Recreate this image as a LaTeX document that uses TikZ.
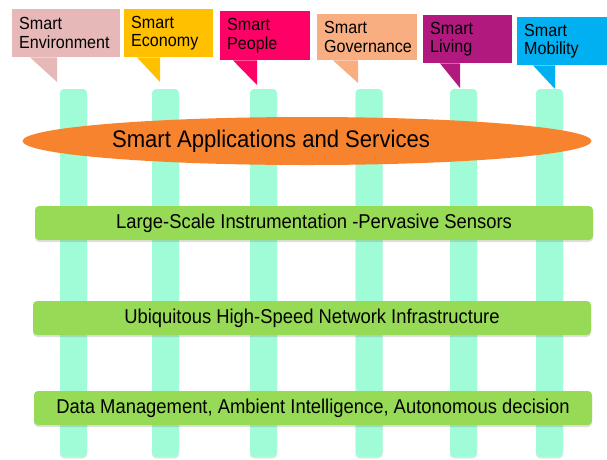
\documentclass[tikz,border=0pt]{standalone}
\usepackage{fontspec}
\setmainfont{Liberation Sans}[FakeStretch=0.92]
\usetikzlibrary{shapes.geometric,shadows}

\definecolor{envcol}{HTML}{E6B9B8}
\definecolor{econcol}{HTML}{FFC000}
\definecolor{peoplecol}{HTML}{FF0066}
\definecolor{govcol}{HTML}{F9AE82}
\definecolor{livingcol}{HTML}{B2197F}
\definecolor{mobcol}{HTML}{00B0F0}
\definecolor{appcol}{HTML}{F7832F}
\definecolor{layercol}{HTML}{97DA55}
\definecolor{pillarcol}{HTML}{9FFCD6}

\begin{document}
\begin{tikzpicture}[x=1pt,y=-1pt,
    pillar/.style={fill=pillarcol, rounded corners=4pt, minimum width=27pt,
      minimum height=368pt, inner sep=0pt,
      drop shadow={shadow xshift=0pt,shadow yshift=-1.5pt,opacity=.2}},
    layer/.style={fill=layercol, rounded corners=4pt, minimum width=558pt,
      minimum height=34pt, inner sep=0pt, font=\fontsize{20}{24}\selectfont,
      drop shadow={shadow xshift=0pt,shadow yshift=-2pt,opacity=.25}},
    bubble/.style={anchor=north west, inner xsep=7pt, inner ysep=0pt,
      align=left, font=\fontsize{17.5}{18.5}\selectfont}]
    \useasboundingbox (0,0) rectangle (607,459);

    % pillars
    \foreach \n/\x in {1/73.5,2/165.5,3/263.5,4/369,5/463.5,6/549.5}
      \node[pillar] (p\n) at (\x,273) {};

    % applications
    \node[ellipse, fill=appcol, minimum width=569pt, minimum height=48pt, inner sep=0pt] (apps) at (307,141) {};
    \node[anchor=base, font=\fontsize{24}{28}\selectfont] (appslabel) at (271,147) {Smart Applications and Services};

    % layers
    \node[layer] (sensors) at (314,223) {Large-Scale Instrumentation -Pervasive Sensors};
    \node[layer] (network) at (312,318) {Ubiquitous High-Speed Network Infrastructure};
    \node[layer] (data) at (313,408) {Data Management, Ambient Intelligence, Autonomous decision};

    % callouts
    \node[bubble, fill=envcol, text width=94pt, minimum height=48pt] (env) at (12,9) {Smart\\Environment};
    \node[bubble, fill=econcol, text width=75pt, minimum height=48pt] (econ) at (124,9) {Smart\\Economy};
    \node[bubble, fill=peoplecol, text width=76pt, minimum height=49pt] (people) at (220,11) {Smart\\People};
    \node[bubble, fill=govcol, text width=86pt, minimum height=46pt] (gov) at (317,14) {Smart\\Governance};
    \node[bubble, fill=livingcol, text width=75pt, minimum height=48pt] (living) at (423,15) {Smart\\Living};
    \node[bubble, fill=mobcol, text width=76pt, minimum height=48pt] (mob) at (517,17) {Smart\\Mobility};

    \foreach \n/\a/\b/\tx/\ty in {env/18/45/57/82, econ/13/36/160/82, people/13/37/257/85,
        gov/16/41/358/83, living/17/37/460/88, mob/16/38/555/89}{
      \coordinate (\n tip) at (\tx,\ty);
      \fill[\n col] ([xshift=\a pt]\n.south west) -- ([xshift=\b pt]\n.south west) -- (\n tip) -- cycle;
    }
\end{tikzpicture}
\end{document}
